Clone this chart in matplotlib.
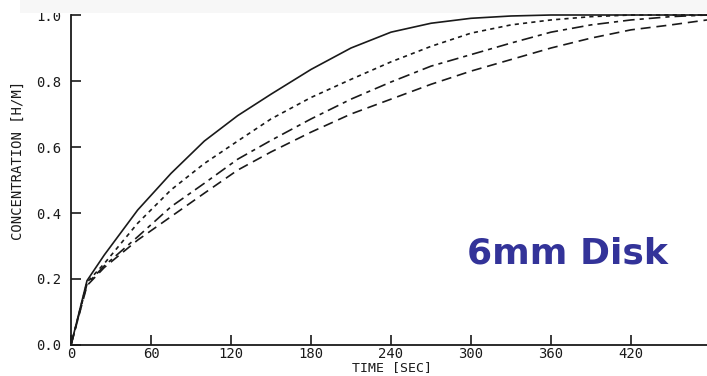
import numpy as np
import matplotlib.pyplot as plt
from matplotlib.patches import Rectangle

# time axis (sec) and the four concentration curves [H/M]
t = [0, 12, 25, 50, 75, 100, 125, 150, 180, 210, 240, 270, 300, 330, 360, 390, 420, 450, 477]
c_solid = [0, 0.195, 0.273, 0.409, 0.52, 0.618, 0.695, 0.76, 0.835, 0.90, 0.948, 0.975, 0.99, 0.997, 1.0, 1.0, 1.0, 1.0, 1.0]
c_dot = [0, 0.19, 0.247, 0.369, 0.47, 0.55, 0.618, 0.685, 0.75, 0.805, 0.858, 0.905, 0.945, 0.97, 0.985, 0.995, 1.0, 1.0, 1.0]
c_dashdot = [0, 0.185, 0.24, 0.328, 0.419, 0.49, 0.563, 0.62, 0.685, 0.745, 0.797, 0.845, 0.88, 0.915, 0.948, 0.97, 0.985, 0.995, 1.0]
c_dash = [0, 0.18, 0.235, 0.318, 0.389, 0.46, 0.53, 0.585, 0.645, 0.70, 0.745, 0.79, 0.83, 0.865, 0.90, 0.93, 0.955, 0.97, 0.985]

xticks = [0, 60, 120, 180, 240, 300, 360, 420]
yticks = [0.0, 0.2, 0.4, 0.6, 0.8, 1.0]

mono = 'DejaVu Sans Mono'
ink = '#1a1a1a'

fig = plt.figure(figsize=(7.07, 3.76), dpi=100)
ax = fig.add_axes([71/707, 31/376, 636/707, 330/376])

ax.plot(t, c_solid, color=ink, lw=1.2, clip_on=False)
ax.plot(t, c_dot, color=ink, lw=1.2, dashes=(2.5, 2.5), clip_on=False)
ax.plot(t, c_dashdot, color=ink, lw=1.2, dashes=(7, 3, 2.5, 3), clip_on=False)
ax.plot(t, c_dash, color=ink, lw=1.2, dashes=(6, 3.5), clip_on=False)

ax.set_xlim(0, 477)
ax.set_ylim(0, 1.0)
for s in ['top', 'right']:
    ax.spines[s].set_visible(False)
for s in ['left', 'bottom']:
    ax.spines[s].set_linewidth(1.3)
    ax.spines[s].set_color(ink)

ax.set_xticks(xticks)
ax.set_xticklabels([str(v) for v in xticks])
ax.set_yticks(yticks)
ax.set_yticklabels(['%.1f' % v for v in yticks])
ax.tick_params(direction='in', length=7.5, width=1.2, color=ink,
               labelsize=10, labelcolor=ink)
ax.tick_params(axis='y', pad=7)
ax.tick_params(axis='x', pad=1.5)
for lab in ax.get_xticklabels() + ax.get_yticklabels():
    lab.set_family(mono)

fig.text(392/707, 1 - 368/376, 'TIME [SEC]', family=mono, fontsize=9.5,
         color=ink, ha='center', va='center')
fig.text(18/707, 1 - 160/376, 'CONCENTRATION [H/M]', family=mono, fontsize=10,
         color=ink, ha='center', va='center', rotation=90)

fig.text(567/707, 1 - 253/376, '6mm Disk', fontsize=26, fontweight='bold',
         color='#333399', ha='center', va='center')

# faint band at the top of the scan
fig.patches.append(Rectangle((20/707, 1 - 13/376), 1, 13/376, transform=fig.transFigure,
                             facecolor='#f7f7f7', edgecolor='none', zorder=10))

fig.savefig('out.png', dpi=100)
